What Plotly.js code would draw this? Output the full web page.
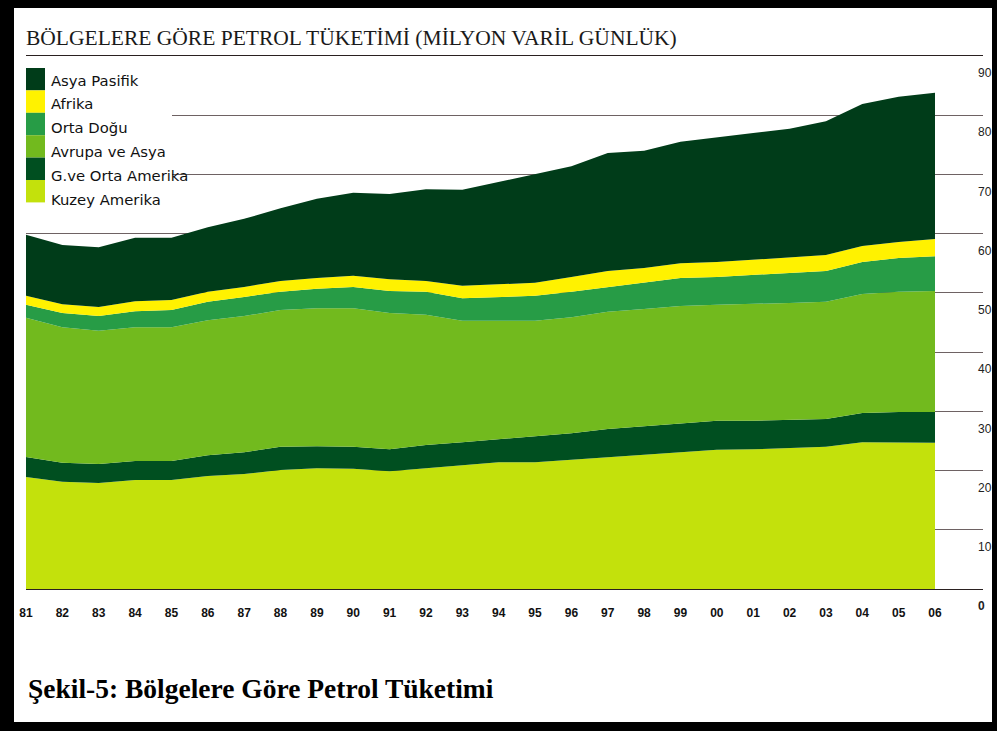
<!DOCTYPE html>
<html>
<head>
<meta charset="utf-8">
<script src="https://cdn.plot.ly/plotly-3.0.1.min.js"></script>
<style>
  html, body { margin: 0; padding: 0; background: #ffffff; }
  #chart { width: 997px; height: 731px; }
</style>
</head>
<body>
<div id="chart"></div>
<script>
// ---- Data (million barrels per day) ----
const years = ['81','82','83','84','85','86','87','88','89','90','91','92','93','94','95','96','97','98','99','00','01','02','03','04','05','06'];
const kuzeyAmerika = [18.9,18.1,17.9,18.4,18.4,19.1,19.4,20.1,20.4,20.3,19.9,20.4,20.8,21.4,21.4,21.8,22.3,22.6,23.1,23.5,23.6,23.8,24.0,24.8,24.8,24.7];
const gveOrtaAmerika = [3.4,3.2,3.2,3.2,3.2,3.5,3.7,3.9,3.7,3.7,3.7,3.9,4.0,3.9,4.3,4.5,4.7,4.9,4.9,4.9,4.8,4.7,4.7,4.9,5.1,5.2];
const avrupaVeAsya = [23.5,22.9,22.5,22.6,22.6,22.8,23.0,23.1,23.3,23.4,23.0,22.0,20.5,20.0,19.6,19.6,19.8,19.8,19.8,19.6,19.7,19.8,19.8,20.1,20.3,20.4];
const ortaDogu = [2.2,2.4,2.5,2.7,2.9,3.1,3.2,3.1,3.3,3.6,3.7,3.9,3.8,4.0,4.2,4.3,4.2,4.5,4.7,4.7,4.9,5.1,5.2,5.4,5.7,5.9];
const afrika = [1.5,1.5,1.5,1.7,1.7,1.7,1.7,1.8,1.8,1.9,2.0,1.8,2.1,2.2,2.2,2.5,2.7,2.4,2.5,2.5,2.6,2.5,2.7,2.7,2.7,2.9];
const asyaPasifik = [10.3,10.0,10.1,10.7,10.5,10.9,11.5,12.3,13.4,14.0,14.4,15.5,16.2,17.2,18.4,18.7,19.9,19.8,20.5,21.1,21.4,21.8,22.6,24.0,24.5,24.7];

const yTickVals = [0,10,20,30,40,50,60,70,80,90];
const yTickText = ['<b>0</b>','10','20','30','40','50','60','70','80','90'];

const titleText = 'BÖLGELERE GÖRE PETROL TÜKETİMİ (MİLYON VARİL GÜNLÜK)';
const captionText = 'Şekil-5: Bölgelere Göre Petrol Tüketimi';

// series, bottom to top
const seriesNames = ['Kuzey Amerika','G.ve Orta Amerika','Avrupa ve Asya','Orta Doğu','Afrika','Asya Pasifik'];
const seriesValues = [kuzeyAmerika, gveOrtaAmerika, avrupaVeAsya, ortaDogu, afrika, asyaPasifik];
const seriesColors = ['#c3e10c','#004f20','#72ba1e','#279c46','#fff200','#003c19'];

// ---- geometry helpers (pixel -> paper) ----
const W = 997, H = 731;
const mL = 26, mR = 14, mT = 56, mB = 142;
const pw = W - mL - mR, ph = H - mT - mB;
const px = x => (x - mL) / pw;
const py = y => (H - mB - y) / ph;

const traces = seriesNames.map((name, i) => ({
  type: 'scatter',
  mode: 'lines',
  x: years,
  y: seriesValues[i],
  name: name,
  stackgroup: 'one',
  line: { width: 0, color: seriesColors[i] },
  fillcolor: seriesColors[i],
  hoverinfo: 'x+y+name',
  showlegend: false
}));

const shapes = [];
const annotations = [];

// legend background (covers gridlines)
shapes.push({ type: 'rect', xref: 'paper', yref: 'paper', layer: 'above',
  x0: px(26), x1: px(172), y0: py(62), y1: py(206),
  fillcolor: '#ffffff', line: { width: 0 } });

// custom legend: top-down order
const legendOrder = [5,4,3,2,1,0];
const blockTop = 68, blockH = 22.4;
const textTop = 80, textStep = 23.8;
legendOrder.forEach((si, k) => {
  shapes.push({ type: 'rect', xref: 'paper', yref: 'paper', layer: 'above',
    x0: px(26), x1: px(45),
    y0: py(blockTop + (k + 1) * blockH), y1: py(blockTop + k * blockH),
    fillcolor: seriesColors[si], line: { width: 0 } });
  annotations.push({ xref: 'paper', yref: 'paper', x: px(49), y: py(textTop + k * textStep),
    xanchor: 'left', yanchor: 'middle', showarrow: false,
    text: seriesNames[si],
    font: { family: 'DejaVu Sans, Verdana, sans-serif', size: 14.8, color: '#111111' } });
});

// caption
annotations.push({ xref: 'paper', yref: 'paper', x: px(26), y: py(688),
  xanchor: 'left', yanchor: 'middle', showarrow: false,
  text: '<b>' + captionText + '</b>',
  font: { family: 'Liberation Serif, Times New Roman, serif', size: 27.5, color: '#000000' } });

// black frame
const frame = [
  [0, 0, W, 8],       // top
  [0, 0, 14, H],      // left
  [0, 722, W, H],     // bottom
  [992, 0, W, H]      // right
];
frame.forEach(f => shapes.push({ type: 'rect', xref: 'paper', yref: 'paper', layer: 'above',
  x0: px(f[0]), x1: px(f[2]), y0: py(f[3]), y1: py(f[1]),
  fillcolor: '#000000', line: { width: 0 } }));

const layout = {
  width: W, height: H,
  margin: { l: mL, r: mR, t: mT, b: mB, pad: 0 },
  paper_bgcolor: '#ffffff',
  plot_bgcolor: '#ffffff',
  showlegend: false,
  title: {
    text: titleText,
    xref: 'paper', x: 0, xanchor: 'left',
    yref: 'container', y: 1 - 37 / H, yanchor: 'middle',
    font: { family: 'Liberation Serif, Times New Roman, serif', size: 21.5, color: '#1a1a1a' }
  },
  xaxis: {
    type: 'category',
    range: [0, 26.32],
    autorange: false,
    automargin: false,
    showgrid: false,
    zeroline: false,
    showline: true,
    mirror: true,
    linecolor: '#2a2020',
    linewidth: 1,
    ticks: '',
    ticklabelstandoff: 13,
    tickfont: { family: 'Liberation Sans, Arial, sans-serif', size: 12, color: '#111111', weight: 'bold' },
    fixedrange: true
  },
  yaxis: {
    range: [0, 90],
    autorange: false,
    automargin: false,
    side: 'right',
    anchor: 'free',
    position: px(967),
    tickmode: 'array',
    tickvals: yTickVals,
    ticktext: yTickText,
    ticklabelposition: 'outside',
    ticklabelshift: 17,
    ticklabelstandoff: 10,
    ticks: '',
    showgrid: true,
    gridcolor: '#6e6263',
    gridwidth: 1,
    zeroline: false,
    showline: false,
    tickfont: { family: 'Liberation Sans, Arial, sans-serif', size: 12, color: '#222222' },
    fixedrange: true
  },
  shapes: shapes,
  annotations: annotations
};

Plotly.newPlot('chart', traces, layout, { displayModeBar: false, staticPlot: true });
</script>
</body>
</html>
